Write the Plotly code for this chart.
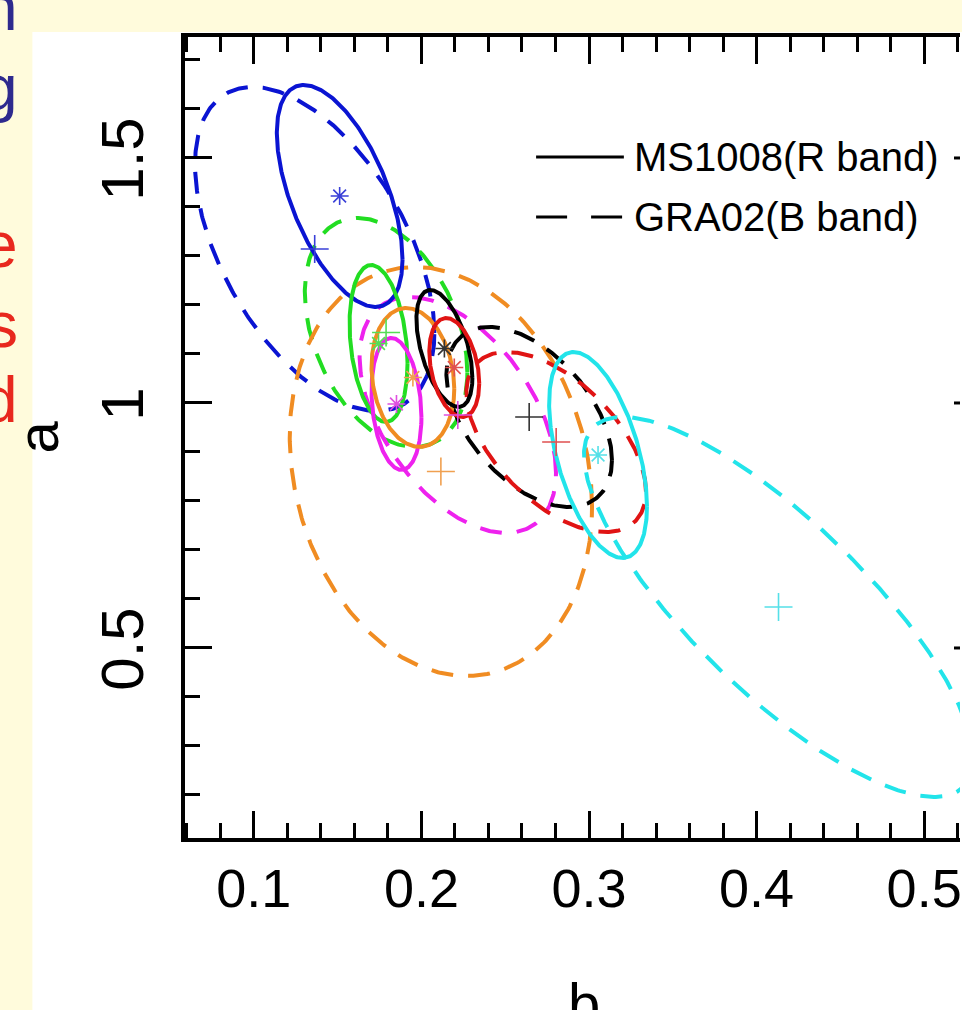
import numpy as np
import plotly.graph_objects as go

# ---------------- data ----------------
colors = ["#0a14d2", "#22dd22", "#ee22ee", "#f08c22", "#000000", "#e01414", "#22e4ea"]
marker_colors = ["#3a40d8", "#55dd55", "#e050e0", "#f0a050", "#333333", "#e05050", "#55e0e8"]

# MS1008 (R band): best fit b, a and ellipse parameters (solid)
r_b = [0.1512, 0.1744, 0.1851, 0.1949, 0.2137, 0.2196, 0.3054]
r_a = [1.4225, 1.1214, 0.9980, 1.0520, 1.1112, 1.0724, 0.8939]
r_sb = [0.0375, 0.0173, 0.0149, 0.0247, 0.0167, 0.0149, 0.0292]
r_sa = [0.2265, 0.1602, 0.1347, 0.1418, 0.1194, 0.1010, 0.2102]
r_rho = [-0.57, -0.25, -0.20, -0.16, -0.50, -0.32, -0.50]

# GRA02 (B band): best fit b, a and ellipse parameters (dashed)
g_b = [0.1363, 0.1789, 0.2217, 0.2116, 0.2643, 0.2804, 0.4131]
g_a = [1.3143, 1.1439, 0.9755, 0.8602, 0.9714, 0.9204, 0.5837]
g_sb = [0.0714, 0.0485, 0.0586, 0.0902, 0.0494, 0.0536, 0.1161]
g_sa = [0.3306, 0.2337, 0.2408, 0.4173, 0.1837, 0.1837, 0.3878]
g_rho = [-0.52, -0.35, -0.49, -0.17, -0.48, -0.55, -0.80]

x_range = [0.0589, 0.5214]
y_range = [0.1122, 1.7469]
legend_labels = ["MS1008(R band)", "GRA02(B band)"]
side_letters = ["n", "g", "e", "s", "d"]
side_colors = ["#2e2a8e", "#2e2a8e", "#e8281e", "#e8281e", "#e8281e"]
side_y_px = [8, 88, 245, 325, 400]

# ---------------- figure ----------------
W, H = 962, 1010
L, R, T, B = 185, 0, 37, 172
pw, ph = W - L - R, H - T - B
CREAM = "#fffbdc"


def px2x(px):
    return (px - L) / pw


def py2y(py):
    return (H - B - py) / ph


def ellipse(b0, a0, sb, sa, rho, n=400):
    t = np.linspace(0, 2 * np.pi, n)
    x = b0 + sb * np.cos(t)
    y = a0 + sa * (rho * np.cos(t) + np.sqrt(1 - rho ** 2) * np.sin(t))
    return x, y


fig = go.Figure()

for i in range(len(colors)):
    x, y = ellipse(g_b[i], g_a[i], g_sb[i], g_sa[i], g_rho[i])
    fig.add_trace(go.Scatter(x=x, y=y, mode="lines", showlegend=False, hoverinfo="skip",
                             line=dict(color=colors[i], width=4, dash="22px,15px")))
for i in range(len(colors)):
    x, y = ellipse(r_b[i], r_a[i], r_sb[i], r_sa[i], r_rho[i])
    fig.add_trace(go.Scatter(x=x, y=y, mode="lines", showlegend=False, hoverinfo="skip",
                             line=dict(color=colors[i], width=4)))

for i in range(len(colors)):
    fig.add_trace(go.Scatter(x=[g_b[i]], y=[g_a[i]], mode="markers", showlegend=False,
                             marker=dict(symbol="cross-thin", size=20, color=marker_colors[i],
                                         line=dict(color=marker_colors[i], width=1.6))))
    fig.add_trace(go.Scatter(x=[r_b[i]], y=[r_a[i]], mode="markers", showlegend=False,
                             marker=dict(symbol="asterisk", size=15, color=marker_colors[i],
                                         line=dict(color=marker_colors[i], width=1.6))))

shapes = [
    # white panel of the slide
    dict(type="rect", xref="paper", yref="paper", x0=px2x(32), x1=px2x(W + 5),
         y0=py2y(H + 5), y1=py2y(32), fillcolor="white", line=dict(width=0), layer="below"),
    # legend samples
    dict(type="line", xref="paper", yref="paper", x0=px2x(537), x1=px2x(625),
         y0=py2y(157), y1=py2y(157), line=dict(color="black", width=3)),
    dict(type="line", xref="paper", yref="paper", x0=px2x(537), x1=px2x(625),
         y0=py2y(217), y1=py2y(217), line=dict(color="black", width=3, dash="31px,24px")),
]
# fragments of the right-hand axis ticks (axis itself lies outside the picture)
for yv in [0.5, 1.0, 1.5]:
    shapes.append(dict(type="line", xref="paper", yref="y", x0=px2x(956), x1=1.0,
                       y0=yv, y1=yv, line=dict(color="black", width=3)))

annotations = [
    dict(text=legend_labels[0], xref="paper", yref="paper", x=px2x(633), y=py2y(157),
         xanchor="left", yanchor="middle", showarrow=False,
         font=dict(family="Liberation Sans", size=40, color="black")),
    dict(text=legend_labels[1], xref="paper", yref="paper", x=px2x(633), y=py2y(217),
         xanchor="left", yanchor="middle", showarrow=False,
         font=dict(family="Liberation Sans", size=40, color="black")),
    dict(text="a", xref="paper", yref="paper", x=px2x(37), y=py2y(437), textangle=-90,
         xanchor="center", yanchor="middle", showarrow=False,
         font=dict(family="Liberation Sans", size=58, color="black")),
    dict(text="b", xref="paper", yref="paper", x=px2x(585), y=py2y(969),
         xanchor="center", yanchor="top", showarrow=False,
         font=dict(family="Liberation Sans", size=58, color="black")),
]
for ch, c, yp in zip(side_letters, side_colors, side_y_px):
    annotations.append(dict(text=ch, xref="paper", yref="paper", x=px2x(20), y=py2y(yp),
                            xanchor="right", yanchor="middle", showarrow=False,
                            font=dict(family="Liberation Sans", size=64, color=c)))

axis_common = dict(showline=True, linewidth=4, linecolor="black", ticks="inside",
                   ticklen=27, tickwidth=3, tickcolor="black", showgrid=False,
                   zeroline=False, ticklabeloverflow="allow")

fig.update_layout(
    width=W, height=H, autosize=False,
    margin=dict(l=L, r=R, t=T, b=B, pad=0),
    paper_bgcolor=CREAM, plot_bgcolor="white",
    shapes=shapes, annotations=annotations, showlegend=False,
    xaxis=dict(range=x_range, mirror="allticks", tick0=0, dtick=0.1,
               minor=dict(ticks="inside", ticklen=15, tickwidth=3, tickcolor="black",
                          tick0=0, dtick=0.02),
               tickfont=dict(family="Liberation Sans", size=54, color="black"),
               ticklabelstandoff=0, **axis_common),
    yaxis=dict(range=y_range, mirror=False, tick0=0, dtick=0.5, tickangle=-90,
               minor=dict(ticks="inside", ticklen=15, tickwidth=3, tickcolor="black",
                          tick0=0, dtick=0.1),
               tickfont=dict(family="Liberation Sans", size=60, color="black"),
               ticklabelstandoff=14, ticklabelshift=10, **axis_common),
)

fig.write_html("out.html", config={"displayModeBar": False},
               post_script="document.body.style.margin='0';"
                           "document.body.style.background='" + CREAM + "';")
